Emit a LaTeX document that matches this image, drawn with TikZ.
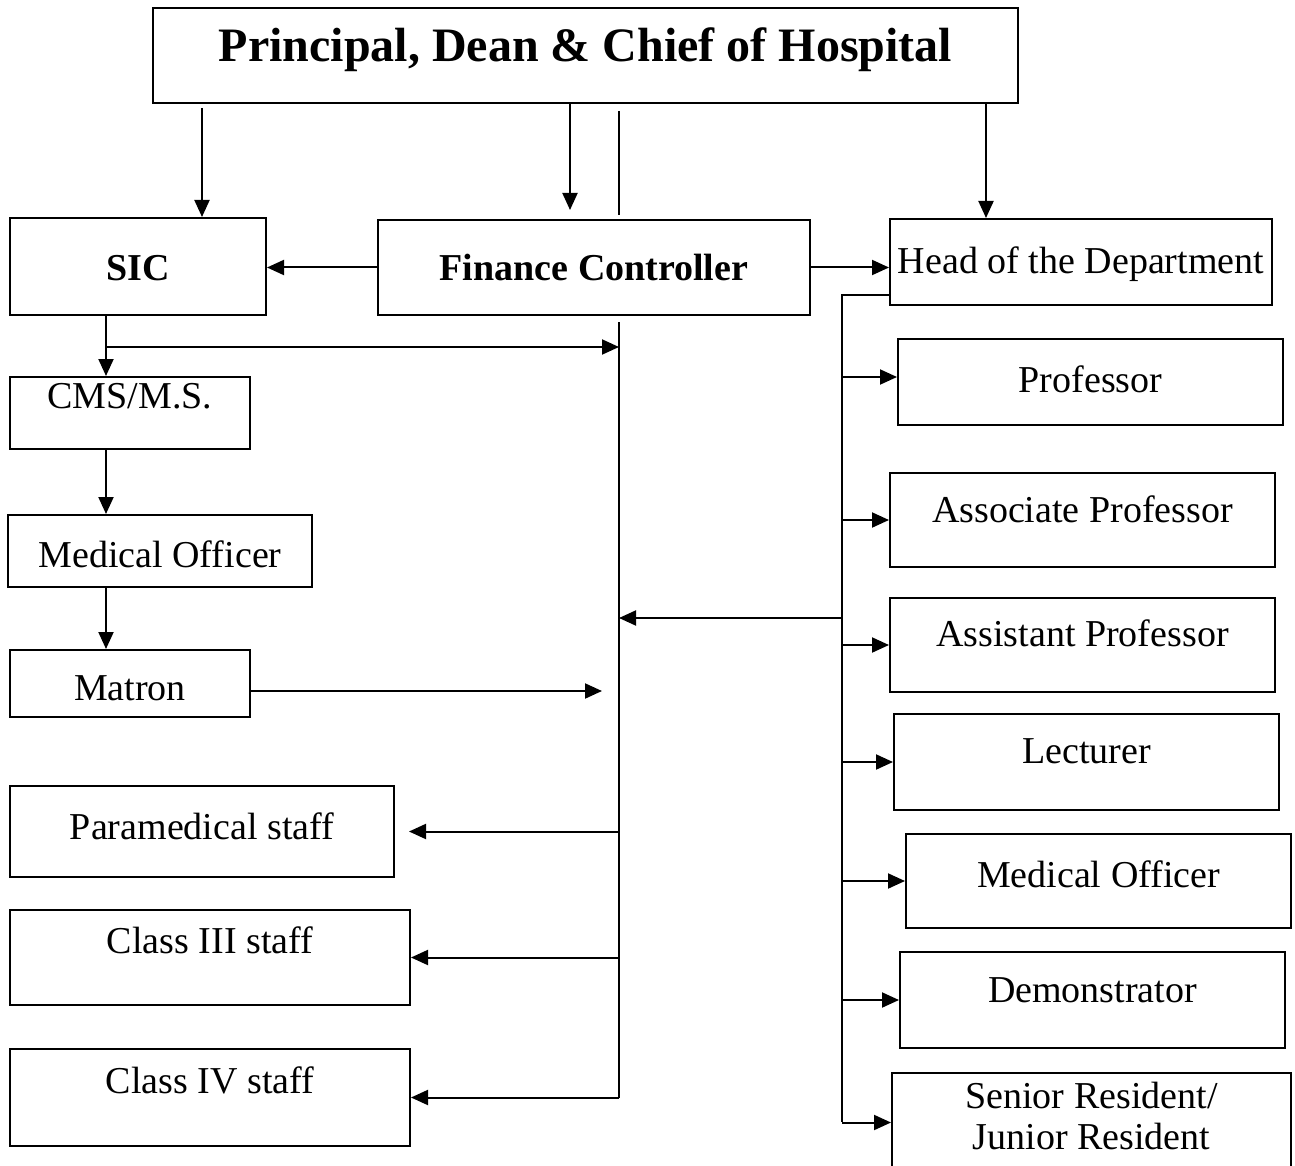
\documentclass[tikz,border=0pt]{standalone}
\usepackage{fontspec}
\setmainfont{Liberation Serif}
\usetikzlibrary{arrows.meta}

\tikzset{
  orgbox/.style={draw, inner sep=0pt, anchor=base, font=\fontsize{38}{41}\selectfont},
  arr/.style={-{Triangle[length=17pt,width=15pt]}},
}

\begin{document}
\begin{tikzpicture}[x=1pt, y=-1pt, line width=2pt]
\useasboundingbox (0,0) rectangle (1295,1166);
\clip (0,0) rectangle (1295,1166);

% Top row
\node[orgbox, font=\fontsize{48}{52}\selectfont\bfseries, minimum width=865pt, text height=54pt, text depth=41pt] (principal) at (585.5,62) {Principal, Dean \& Chief of Hospital};
\node[orgbox, font=\fontsize{38}{41}\selectfont\bfseries, minimum width=256pt, text height=62pt, text depth=35pt] (sic) at (138,280) {SIC};
\node[orgbox, font=\fontsize{38}{41}\selectfont\bfseries, minimum width=432pt, text height=60pt, text depth=35pt] (fc) at (594,280) {Finance Controller};
\node[orgbox, minimum width=382pt, text height=54pt, text depth=32pt] (hod) at (1081,273) {Head of the Department};

% Hospital side
\node[orgbox, minimum width=240pt, text height=31pt, text depth=41pt] (cms) at (130,408) {CMS/M.S.};
\node[orgbox, minimum width=304pt, text height=52pt, text depth=20pt] (mol) at (160,567) {Medical Officer};
\node[orgbox, minimum width=240pt, text height=50pt, text depth=17pt] (matron) at (130,700) {Matron};
\node[orgbox, minimum width=384pt, text height=53pt, text depth=38pt] (para) at (202,839) {Paramedical staff};
\node[orgbox, minimum width=400pt, text height=43pt, text depth=52pt] (cl3) at (210,953) {Class III staff};
\node[orgbox, minimum width=400pt, text height=44pt, text depth=53pt] (cl4) at (210,1093) {Class IV staff};

% Department side
\node[orgbox, minimum width=385pt, text height=53pt, text depth=33pt] (prof) at (1090.5,392) {Professor};
\node[orgbox, minimum width=385pt, text height=49pt, text depth=45pt] (assoc) at (1082.5,522) {Associate Professor};
\node[orgbox, minimum width=385pt, text height=48pt, text depth=46pt] (asst) at (1082.5,646) {Assistant Professor};
\node[orgbox, minimum width=385pt, text height=49pt, text depth=47pt] (lect) at (1086.5,763) {Lecturer};
\node[orgbox, minimum width=385pt, text height=53pt, text depth=41pt] (mor) at (1098.5,887) {Medical Officer};
\node[orgbox, minimum width=385pt, text height=50pt, text depth=46pt] (demo) at (1092.5,1002) {Demonstrator};
\node[orgbox, align=center, minimum width=399pt, text height=76pt, text depth=23pt] (res) at (1091.5,1149) {Senior Resident/\\Junior Resident};

% From the top
\coordinate (t1) at (202,108);
\coordinate (t2) at (570,103);
\coordinate (t2end) at (570,210);
\coordinate (t3) at (986,103);
\coordinate (b1) at (619,111);
\coordinate (b1end) at (619,215);
\draw[arr] (t1) -- (t1 |- sic.north);
\draw[arr] (t2) -- (t2end);
\draw (b1) -- (b1end);
\draw[arr] (t3) -- (t3 |- hod.north);
\draw[arr] (fc.west) -- (fc.west -| sic.east);
\draw[arr] (fc.east) -- (fc.east -| hod.west);

% SIC chain
\coordinate (s1) at (106,315);
\coordinate (s2) at (106,347);
\coordinate (m1) at (250,691);
\coordinate (fcline) at (619,322);
\coordinate (fclineend) at (619,1098);
\draw[arr] (s1) -- (s1 |- cms.north);
\draw[arr] (s2) -- (s2 -| fcline);
\draw[arr] (s1 |- cms.south) -- (s1 |- mol.north);
\draw[arr] (s1 |- mol.south) -- (s1 |- matron.north);
\draw[arr, shorten >=17pt] (m1) -- (m1 -| fcline);

% Finance line
\draw (fcline) -- (fclineend);
\draw[arr, shorten >=14pt] (para.east -| fcline) -- (para.east);
\draw[arr] (cl3.east -| fcline) -- (cl3.east);
\draw[arr] (cl4.east -| fcline) -- (cl4.east);

% Department line
\coordinate (spine) at (842,295);
\coordinate (spineend) at (842,1122);
\coordinate (back) at (842,618);
\coordinate (p1) at (842,377);
\draw (hod.west |- spine) -- (spine) -- (spineend);
\draw[arr] (back) -- (back -| fcline);
\draw[arr] (p1) -- (p1 -| prof.west);
\draw[arr] (spine |- assoc.west) -- (assoc.west);
\draw[arr] (spine |- asst.west) -- (asst.west);
\draw[arr] (spine |- lect.west) -- (lect.west);
\draw[arr] (spine |- mor.west) -- (mor.west);
\draw[arr] (spine |- demo.west) -- (demo.west);
\draw[arr] (spine |- res.west) -- (res.west);
\end{tikzpicture}
\end{document}
